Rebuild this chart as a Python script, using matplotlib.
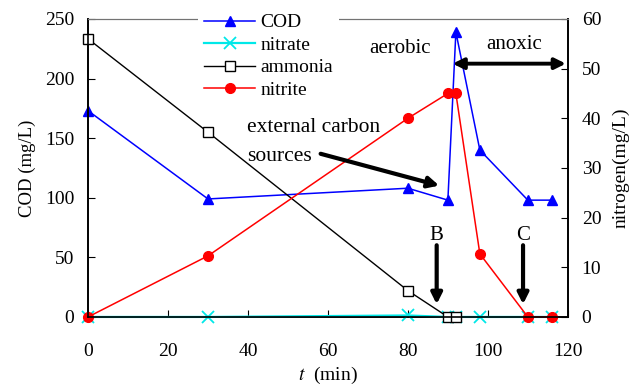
"""COD / nitrogen profile over one cycle, aerobic then anoxic."""
import matplotlib
matplotlib.use("Agg")
import matplotlib.pyplot as plt

plt.rcParams["font.family"] = ["Liberation Serif", "DejaVu Serif"]
plt.rcParams["mathtext.fontset"] = "stix"

# data
t_cod = [0, 30, 80, 90, 92, 98, 110, 116]
cod = [173, 99, 108, 98, 239, 140, 98, 98]

t_nitrate = [0, 30, 80, 90, 92, 98, 110, 116]
nitrate = [0, 0, 0.3, 0, 0, 0, 0, 0]

t_ammonia = [0, 30, 80, 90, 92]
ammonia = [56, 37.2, 5.3, 0, 0]

t_nitrite = [0, 30, 80, 90, 92, 98, 110, 116]
nitrite = [0, 12.3, 40, 45, 45, 12.7, 0, 0]

x_ticks = [0, 20, 40, 60, 80, 100, 120]
cod_ticks = [0, 50, 100, 150, 200, 250]
n_ticks = [0, 10, 20, 30, 40, 50, 60]

fig = plt.figure(figsize=(6.38, 3.87), dpi=100)
ax = fig.add_axes([0.138, 0.181, 0.752, 0.770])
ax2 = ax.twinx()

h_cod, = ax.plot(t_cod, cod, "-^", color="#0000FF", lw=1.1, ms=7, clip_on=False, label="COD")
h_no3, = ax2.plot(t_nitrate, nitrate, "-x", color="#00E8E8", lw=1.6, ms=8, mew=1.3, clip_on=False, label="nitrate")
h_nh4, = ax2.plot(t_ammonia, ammonia, "-s", color="black", mfc="white", lw=1.0, ms=6.5, clip_on=False, label="ammonia")
h_no2, = ax2.plot(t_nitrite, nitrite, "-o", color="#FF0000", lw=1.1, ms=7, clip_on=False, label="nitrite")

ax.set_xlim(0, 120)
ax.set_ylim(0, 250)
ax2.set_ylim(0, 60)
ax.set_xticks(x_ticks)
ax.set_yticks(cod_ticks)
ax2.set_yticks(n_ticks)

ax.tick_params(axis="x", direction="in", length=5, pad=19, labelsize=14)
ax.tick_params(axis="y", direction="in", length=5, pad=10, labelsize=14)
ax2.tick_params(axis="y", direction="in", length=5, pad=10, labelsize=14)
for a in (ax, ax2):
    a.spines["top"].set_color("0.45")
    for s in ("left", "right", "bottom"):
        a.spines[s].set_linewidth(1.2)

ax.set_xlabel("$t$  (min)", fontsize=14, labelpad=3)
ax.set_ylabel("COD (mg/L)", fontsize=13.5, labelpad=6)
ax2.set_ylabel("nitrogen(mg/L)", fontsize=14, labelpad=8)

# annotations (placed in nitrogen units on ax2)
ax2.text(78, 54.1, "aerobic", fontsize=15, ha="center", va="center")
ax2.text(106.5, 54.9, "anoxic", fontsize=15, ha="center", va="center")
ax2.annotate("", xy=(90.5, 51), xytext=(120.2, 51),
             arrowprops=dict(arrowstyle="<|-|>", color="black", lw=2.8, mutation_scale=16))
ax2.text(39.7, 35.2, "external carbon\nsources", fontsize=15.5, ha="left", va="center", linespacing=1.7)
ax2.annotate("", xy=(88.5, 26.3), xytext=(57.5, 33),
             arrowprops=dict(arrowstyle="-|>", color="black", lw=3, mutation_scale=16))
for x_arrow, letter in [(87.2, "B"), (108.8, "C")]:
    ax2.text(x_arrow, 16.5, letter, fontsize=15, ha="center", va="center")
    ax2.annotate("", xy=(x_arrow, 2), xytext=(x_arrow, 15),
                 arrowprops=dict(arrowstyle="-|>", color="black", lw=3, mutation_scale=16))

leg = ax2.legend(handles=[h_cod, h_no3, h_nh4, h_no2], loc="upper left",
                 bbox_to_anchor=(0.23, 1.037), fontsize=14, frameon=True,
                 facecolor="white", edgecolor="none", framealpha=1,
                 handlelength=2.6, labelspacing=0.25, handletextpad=0.3,
                 borderpad=0.3, borderaxespad=0)
leg.set_zorder(10)

fig.savefig("out.png", dpi=100)
